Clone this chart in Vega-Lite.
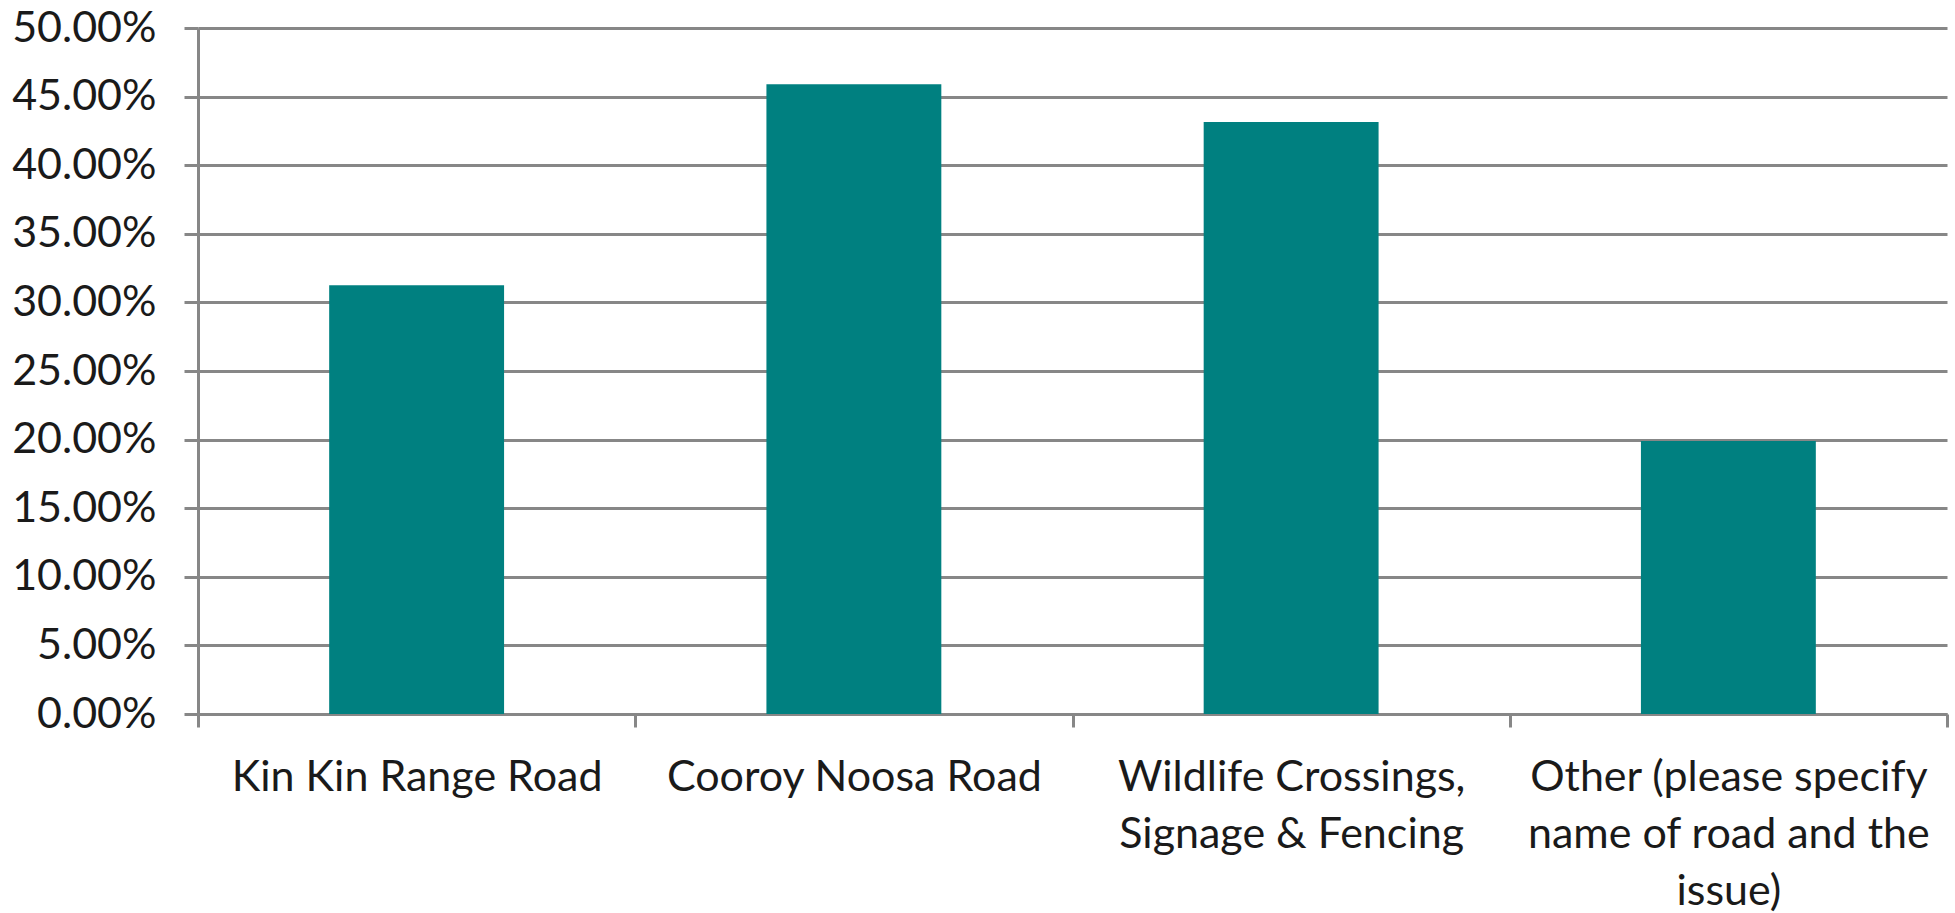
{
  "$schema": "https://vega.github.io/schema/vega-lite/v6.json",
  "width": 1749,
  "height": 686,
  "autosize": {"type": "none"},
  "padding": {"left": 198, "top": 28, "right": 8, "bottom": 199},
  "background": "white",
  "config": {"view": {"stroke": null}},
  "data": {
    "values": [
      {"category": "Kin Kin Range Road", "share": 0.3125},
      {"category": "Cooroy Noosa Road", "share": 0.459},
      {"category": "Wildlife Crossings, Signage & Fencing", "share": 0.4315},
      {"category": "Other (please specify name of road and the issue)", "share": 0.199}
    ]
  },
  "mark": {"type": "bar", "color": "#008080", "width": {"band": 0.4}},
  "encoding": {
    "x": {
      "field": "category",
      "type": "nominal",
      "sort": null,
      "scale": {"paddingInner": 0, "paddingOuter": 0},
      "axis": {
        "title": null,
        "labelAngle": 0,
        "labelFont": "Lato",
        "labelFontSize": 43,
        "labelColor": "#1a1a1a",
        "labelLineHeight": 57,
        "labelPadding": 29,
        "labelBaseline": "top",
        "labelLimit": 0,
        "tickBand": "extent",
        "tickSize": 13,
        "tickWidth": 3,
        "tickColor": "#878787",
        "domainColor": "#878787",
        "domainWidth": 3,
        "labelExpr": "datum.label == 'Wildlife Crossings, Signage & Fencing' ? ['Wildlife Crossings,', 'Signage & Fencing'] : datum.label == 'Other (please specify name of road and the issue)' ? ['Other (please specify', 'name of road and the', 'issue)'] : datum.label"
      }
    },
    "y": {
      "field": "share",
      "type": "quantitative",
      "scale": {"domain": [0, 0.5], "nice": false},
      "axis": {
        "title": null,
        "values": [0, 0.05, 0.1, 0.15, 0.2, 0.25, 0.3, 0.35, 0.4, 0.45, 0.5],
        "format": ".2%",
        "labelFont": "Lato",
        "labelFontSize": 43,
        "labelColor": "#1a1a1a",
        "labelPadding": 28,
        "tickSize": 14,
        "tickWidth": 3,
        "tickColor": "#878787",
        "domainColor": "#878787",
        "domainWidth": 3,
        "grid": true,
        "gridColor": "#878787",
        "gridWidth": 3,
        "labelOverlap": false
      }
    }
  }
}
